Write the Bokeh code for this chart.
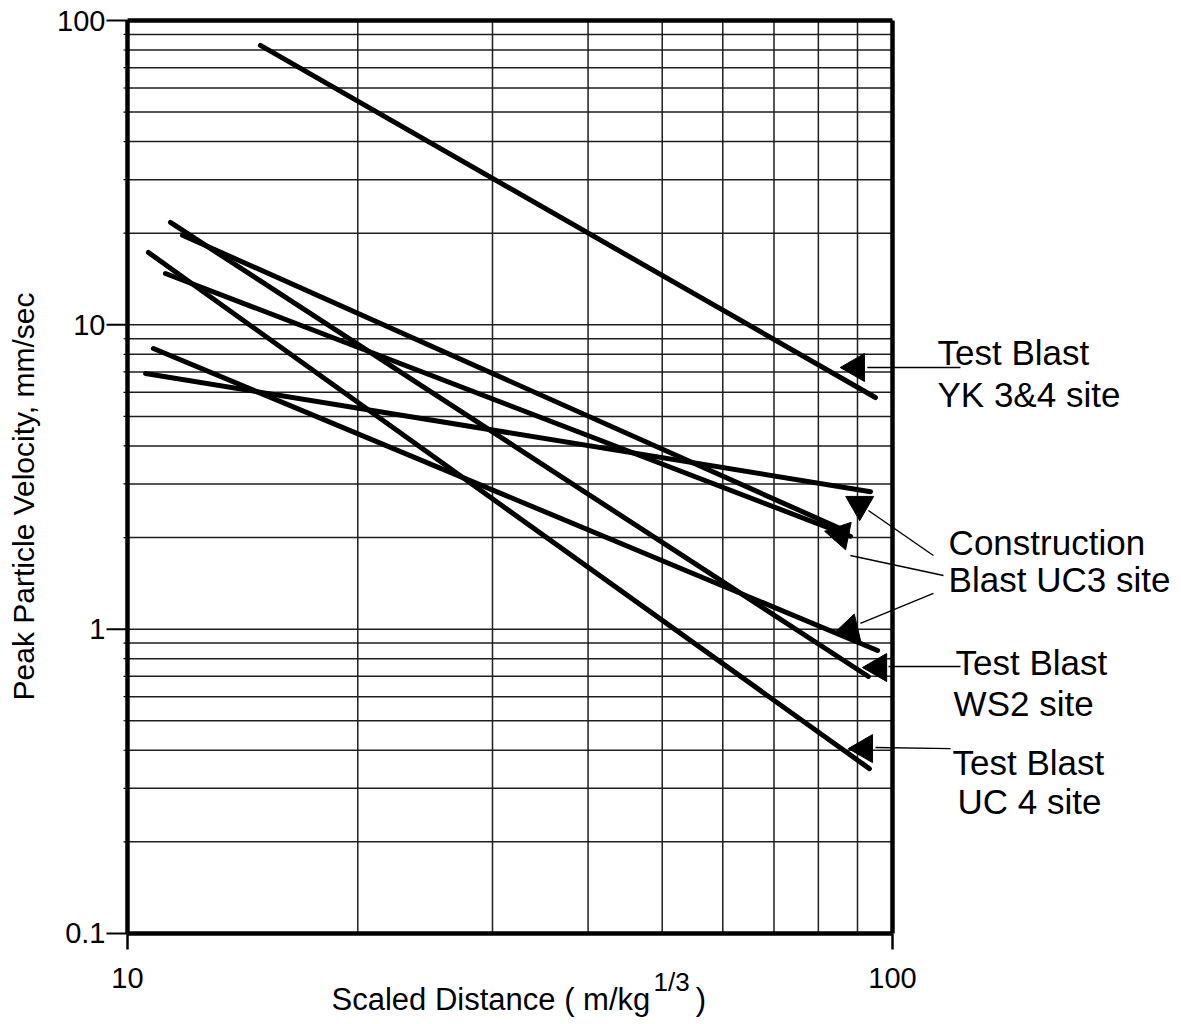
import math
from bokeh.plotting import figure
from bokeh.models import Range1d
from bokeh.core.properties import value
from bokeh.embed import file_html
from bokeh.resources import INLINE

# ---------------- data ----------------
x_major = [10, 100]
x_major_labels = ["10", "100"]
y_major = [0.1, 1, 10, 100]
y_major_labels = ["0.1", "1", "10", "100"]
x_minor = [20, 30, 40, 50, 60, 70, 80, 90]
y_minor = [0.2, 0.3, 0.4, 0.5, 0.6, 0.7, 0.8, 0.9,
           2, 3, 4, 5, 6, 7, 8, 9,
           20, 30, 40, 50, 60, 70, 80, 90]
y_hgrid = y_minor + [1, 10]

# attenuation lines (start, end)
yk_x = [14.92, 95.0]
yk_y = [82.8, 5.77]
uc3_g_x = [10.56, 93.6]
uc3_g_y = [6.92, 2.83]
uc3_c_x = [11.80, 87.3]
uc3_c_y = [19.7, 2.09]
uc3_e_x = [11.21, 88.1]
uc3_e_y = [14.75, 2.02]
uc3_f_x = [10.81, 95.6]
uc3_f_y = [8.36, 0.851]
ws2_x = [11.38, 93.0]
ws2_y = [21.7, 0.699]
uc4_x = [10.65, 93.3]
uc4_y = [17.29, 0.348]

series_x = [yk_x, uc3_g_x, uc3_c_x, uc3_e_x, uc3_f_x, ws2_x, uc4_x]
series_y = [yk_y, uc3_g_y, uc3_c_y, uc3_e_y, uc3_f_y, ws2_y, uc4_y]

# callout texts (anchored at the middle of each text line)
label_text = ["Test Blast", "YK 3&4 site", "Construction", "Blast UC3 site",
              "Test Blast", "WS2 site", "Test Blast", "UC 4 site"]
label_x = [114.5, 114.5, 118.4, 118.4, 120.9, 120.2, 119.8, 121.6]
label_y = [8.11, 5.90, 1.927, 1.457, 0.777, 0.570, 0.3646, 0.2715]

# arrow heads and leaders
head_x = [89.7, 90.6, 85.5, 87.9, 95.9, 91.9]
head_y = [7.24, 2.568, 2.047, 0.997, 0.748, 0.405]
head_angle_deg = [90, 180, 198.5, 103.4, 90, 90]
leader_x0 = [92.7, 93.0, 88.1, 90.8, 98.8, 95.0]
leader_y0 = [7.24, 2.454, 1.746, 1.044, 0.754, 0.4085]
leader_x1 = [122.7, 113.1, 116.6, 113.1, 122.7, 119.1]
leader_y1 = [7.24, 1.746, 1.501, 1.310, 0.754, 0.405]

# axis titles
y_title = "Peak Particle Velocity, mm/sec"
x_title = "Scaled Distance ( m/kg"
x_title_sup = "1/3"
x_title_end = ")"

# ---------------- figure ----------------
FONT = "Liberation Sans"
W, H = 1178, 1020
p = figure(width=W, height=H,
           x_axis_type="log", y_axis_type="log",
           x_range=Range1d(10 ** 0.83399, 10 ** 2.37386),
           y_range=Range1d(10 ** -1.28594, 10 ** 2.06572),
           output_backend="svg", toolbar_location=None,
           min_border_left=0, min_border_right=0,
           min_border_top=0, min_border_bottom=0)
p.outline_line_color = None
p.grid.visible = False
p.axis.visible = False
p.background_fill_color = "white"
p.border_fill_color = "white"

x0, x1 = x_major[0], x_major[-1]
y0, y1 = y_major[0], y_major[-1]

# grid lines (inside the box only)
p.segment(x0=x_minor, y0=[y0] * len(x_minor), x1=x_minor, y1=[y1] * len(x_minor),
          line_color="#1e1e1e", line_width=1.5)
p.segment(x0=[x0] * len(y_hgrid), y0=y_hgrid, x1=[x1] * len(y_hgrid), y1=y_hgrid,
          line_color="#1e1e1e", line_width=1.5)

# box
p.segment(x0=[x0, x0, x1, x0], y0=[y0, y1, y0, y0],
          x1=[x0, x1, x1, x1], y1=[y1, y1, y1, y0],
          line_color="black", line_width=4.5)

# ticks
p.ray(x=[x0] * len(y_major), y=y_major, length=21, length_units="screen",
      angle=math.pi, line_color="black", line_width=2)
p.ray(x=[x0] * len(y_minor), y=y_minor, length=4, length_units="screen",
      angle=math.pi, line_color="black", line_width=1.2)
p.ray(x=x_major, y=[y0] * len(x_major), length=16, length_units="screen",
      angle=-math.pi / 2, line_color="black", line_width=2.5)

# tick labels
p.text(x=[x0] * len(y_major), y=y_major, text=y_major_labels, x_offset=-22,
       text_font=value(FONT), text_font_size=value("29px"),
       text_align="right", text_baseline="middle", text_color="black")
p.text(x=x_major, y=[y0] * len(x_major), text=x_major_labels, y_offset=45,
       text_font=value(FONT), text_font_size=value("29px"),
       text_align="center", text_baseline="middle", text_color="black")

# data lines
p.multi_line(xs=series_x, ys=series_y, line_color="black", line_width=5,
             line_cap="round")

# leaders and arrow heads
p.segment(x0=leader_x0, y0=leader_y0, x1=leader_x1, y1=leader_y1,
          line_color="black", line_width=1.4)
p.scatter(x=head_x, y=head_y, marker="triangle", size=28,
          angle=[math.radians(a) for a in head_angle_deg],
          fill_color="black", line_color="black")

# callout text
p.text(x=label_x, y=label_y, text=label_text,
       text_font=value(FONT), text_font_size=value("35px"),
       text_align="left", text_baseline="middle", text_color="black")

# axis titles
p.text(x=[7.311], y=[2.729], text=[y_title], angle=math.pi / 2,
       text_font=value(FONT), text_font_size=value("30px"),
       text_align="center", text_baseline="middle", text_color="black")
p.text(x=[18.48], y=[0.06068], text=[x_title],
       text_font=value(FONT), text_font_size=value("31px"),
       text_align="left", text_baseline="middle", text_color="black")
p.text(x=[48.7], y=[0.06902], text=[x_title_sup],
       text_font=value(FONT), text_font_size=value("26px"),
       text_align="left", text_baseline="middle", text_color="black")
p.text(x=[55.3], y=[0.06068], text=[x_title_end],
       text_font=value(FONT), text_font_size=value("31px"),
       text_align="left", text_baseline="middle", text_color="black")

open("out.html", "w").write(file_html(p, INLINE))
